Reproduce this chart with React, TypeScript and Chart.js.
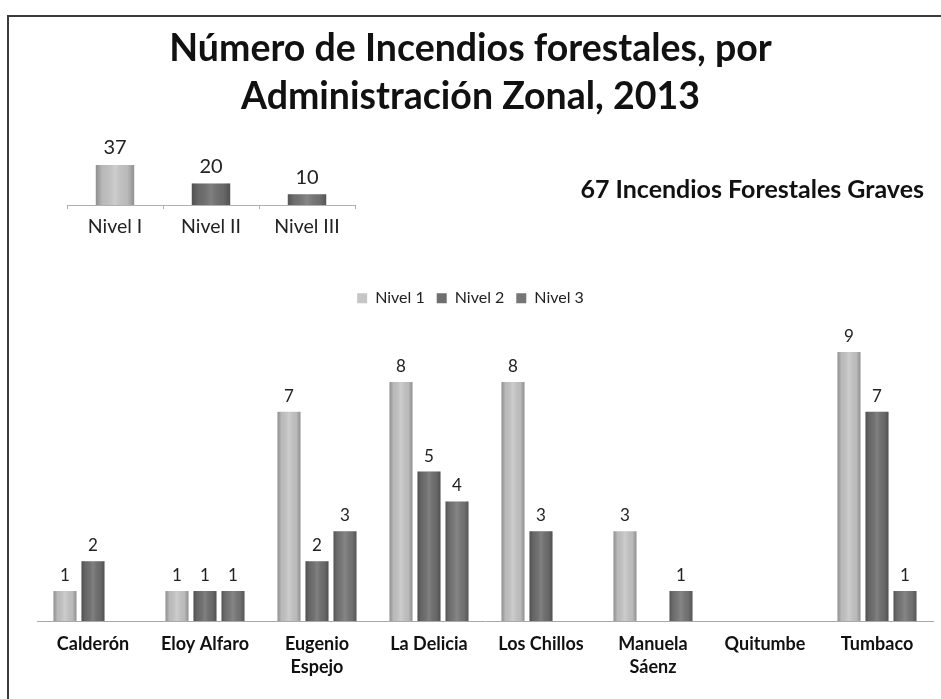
import React, { useEffect, useRef } from 'react';
import { Chart, registerables } from 'chart.js';

Chart.register(...registerables);

// ---- Data ----
const titleLines = ['Número de Incendios forestales, por', 'Administración Zonal, 2013'];
const zones: (string | string[])[] = [
  'Calderón',
  'Eloy Alfaro',
  ['Eugenio', 'Espejo'],
  'La Delicia',
  'Los Chillos',
  ['Manuela', 'Sáenz'],
  'Quitumbe',
  'Tumbaco',
];
const seriesNames = ['Nivel 1', 'Nivel 2', 'Nivel 3'];
const nivel1 = [1, 1, 7, 8, 8, 3, 0, 9];
const nivel2 = [2, 1, 2, 5, 3, 0, 0, 7];
const nivel3 = [0, 1, 3, 4, 0, 1, 0, 1];

const levelLabels = ['Nivel I', 'Nivel II', 'Nivel III'];
const levelTotals = [37, 20, 10];
const totalText = '67 Incendios Forestales Graves';

const seriesColors = ['#c6c6c6', '#6f6f6f', '#767676'];
const FONT = 'Lato, "Open Sans", "DejaVu Sans", sans-serif';

// subtle cylinder shading over each bar drawn by Chart.js
const barShading = {
  id: 'barShading',
  afterDatasetsDraw(chart: any) {
    const ctx = chart.ctx;
    ctx.save();
    chart.data.datasets.forEach((_ds: any, i: number) => {
      const meta = chart.getDatasetMeta(i);
      meta.data.forEach((bar: any) => {
        const h = bar.base - bar.y;
        if (!(h > 0)) return;
        const l = bar.x - bar.width / 2;
        const g = ctx.createLinearGradient(l, 0, l + bar.width, 0);
        g.addColorStop(0, 'rgba(0,0,0,0.28)');
        g.addColorStop(0.18, 'rgba(0,0,0,0.06)');
        g.addColorStop(0.5, 'rgba(255,255,255,0.12)');
        g.addColorStop(0.82, 'rgba(0,0,0,0.06)');
        g.addColorStop(1, 'rgba(0,0,0,0.28)');
        ctx.fillStyle = g;
        ctx.fillRect(l, bar.y, bar.width, h);
      });
    });
    ctx.restore();
  },
};

const valueLabels = {
  id: 'valueLabels',
  afterDatasetsDraw(chart: any, _args: any, opts: any) {
    const ctx = chart.ctx;
    ctx.save();
    ctx.font = opts.font;
    ctx.fillStyle = opts.color;
    ctx.textAlign = 'center';
    ctx.textBaseline = 'bottom';
    chart.data.datasets.forEach((ds: any, i: number) => {
      const meta = chart.getDatasetMeta(i);
      meta.data.forEach((bar: any, j: number) => {
        const v = ds.data[j];
        if (!v) return;
        ctx.fillText(String(v), bar.x, bar.y - opts.offset);
      });
    });
    ctx.restore();
  },
};

function MainChart() {
  const ref = useRef<HTMLCanvasElement>(null);
  useEffect(() => {
    if (!ref.current) return;
    const data = [nivel1, nivel2, nivel3];
    const chart = new Chart(ref.current, {
      type: 'bar',
      data: {
        labels: zones as any,
        datasets: seriesNames.map((name, i) => ({
          label: name,
          data: data[i],
          backgroundColor: seriesColors[i],
          borderWidth: 0,
          barPercentage: 0.82,
          categoryPercentage: 0.75,
        })),
      },
      plugins: [barShading as any, valueLabels as any],
      options: {
        responsive: false,
        animation: false,
        devicePixelRatio: 1,
        layout: { padding: { left: 0, right: 8, top: 4, bottom: 0 } },
        plugins: {
          title: {
            display: true,
            text: titleLines,
            color: '#111',
            font: { family: FONT, size: 37.5, weight: 'bold', lineHeight: 1.27 },
            padding: { top: 5, bottom: 158 },
          },
          legend: {
            display: true,
            position: 'top',
            labels: {
              boxWidth: 10,
              boxHeight: 10,
              color: '#222',
              padding: 12,
              font: { family: FONT, size: 16 },
            },
          },
          tooltip: { enabled: false },
          valueLabels: { font: `17px ${FONT}`, color: '#222', offset: 7 },
        } as any,
        scales: {
          x: {
            grid: { display: false },
            border: { display: true, color: '#a8a8a8', width: 1 },
            ticks: {
              color: '#111',
              padding: 4,
              maxRotation: 0,
              autoSkip: false,
              font: { family: FONT, size: 18, weight: 'bold', lineHeight: 1.25 },
            },
            afterFit: (s: any) => {
              s.height = 78;
            },
          },
          y: {
            display: true,
            min: 0,
            max: 10.2,
            grid: { display: false },
            border: { display: false },
            ticks: { display: false },
            afterFit: (s: any) => {
              s.width = 29;
            },
          },
        },
      },
    });
    return () => chart.destroy();
  }, []);
  return (
    <canvas
      ref={ref}
      width={933}
      height={683}
      style={{ position: 'absolute', left: 8, top: 16, width: 933, height: 683 }}
    />
  );
}

function InsetChart() {
  const ref = useRef<HTMLCanvasElement>(null);
  useEffect(() => {
    if (!ref.current) return;
    const chart = new Chart(ref.current, {
      type: 'bar',
      data: {
        labels: levelLabels,
        datasets: [
          {
            label: 'Total',
            data: levelTotals,
            backgroundColor: seriesColors,
            borderWidth: 0,
            barPercentage: 0.4,
            categoryPercentage: 1,
          },
        ],
      },
      plugins: [barShading as any, valueLabels as any],
      options: {
        responsive: false,
        animation: false,
        devicePixelRatio: 1,
        layout: { padding: { left: 7, right: 5, top: 26, bottom: 0 } },
        plugins: {
          title: { display: false },
          legend: { display: false },
          tooltip: { enabled: false },
          valueLabels: { font: `20px ${FONT}`, color: '#222', offset: 7 },
        } as any,
        scales: {
          x: {
            offset: true,
            grid: { display: true, drawOnChartArea: false, tickLength: 4, color: '#b0b0b0' },
            border: { display: true, color: '#b0b0b0', width: 1 },
            ticks: { color: '#222', padding: 6, font: { family: FONT, size: 19.5 } },
            afterFit: (s: any) => {
              s.height = 45;
            },
          },
          y: { display: false, min: 0, max: 50 },
        },
      },
    });
    return () => chart.destroy();
  }, []);
  return (
    <canvas
      ref={ref}
      width={300}
      height={125}
      style={{ position: 'absolute', left: 60, top: 125, width: 300, height: 125 }}
    />
  );
}

export default function App() {
  return (
    <div
      style={{
        position: 'fixed',
        left: 0,
        top: 0,
        width: 941,
        height: 699,
        background: '#fff',
        overflow: 'hidden',
      }}
    >
      <div
        style={{
          position: 'absolute',
          left: 7,
          top: 15,
          width: 960,
          height: 720,
          borderTop: '2px solid #3a3a3a',
          borderLeft: '2px solid #3a3a3a',
        }}
      />
      <MainChart />
      <InsetChart />
      <div
        style={{
          position: 'absolute',
          right: 17,
          top: 173,
          fontFamily: FONT,
          fontWeight: 'bold',
          fontSize: 25,
          lineHeight: '30px',
          color: '#111',
          whiteSpace: 'nowrap',
        }}
      >
        {totalText}
      </div>
    </div>
  );
}
